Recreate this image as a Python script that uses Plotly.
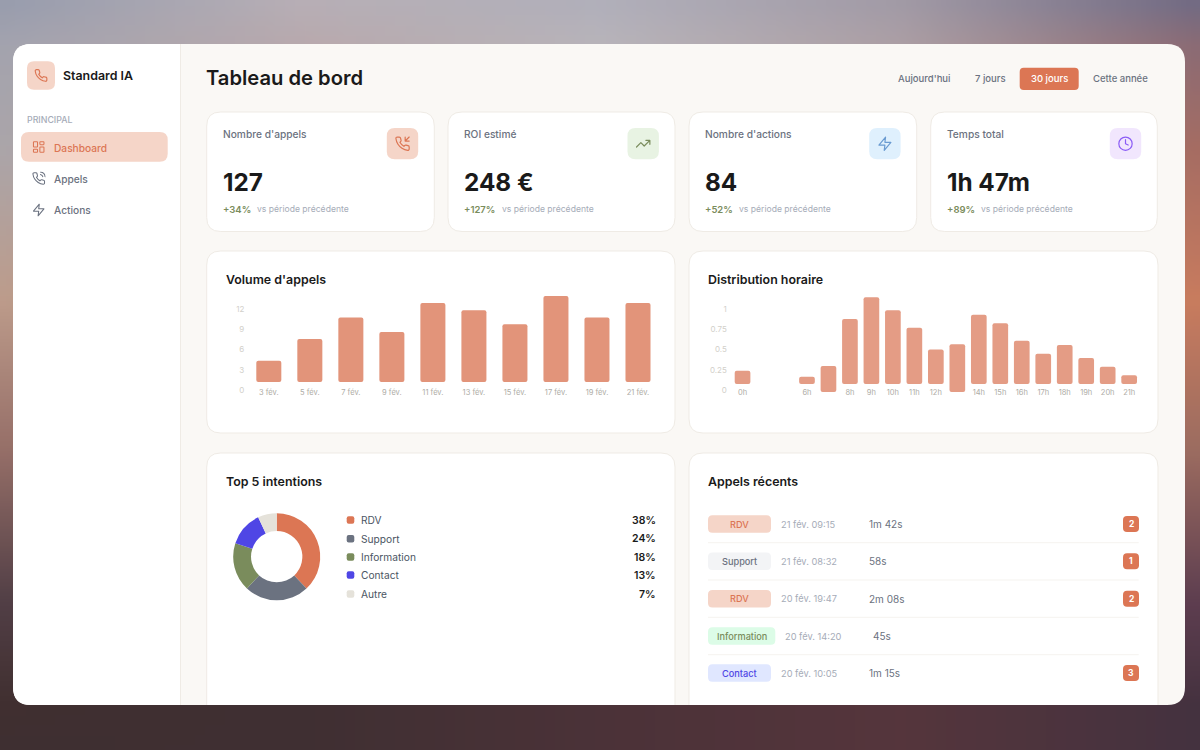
import base64
import struct
import zlib

import numpy as np
import plotly.graph_objects as go

W = 1200
H = 750

# Data
kpi_labels = ["Nombre d'appels", "ROI estimé", "Nombre d'actions", "Temps total"]
kpi_values = ["127", "248 €", "84", "1h 47m"]
kpi_changes = ["+34%", "+127%", "+52%", "+89%"]
kpi_note = "vs période précédente"

filter_labels = ["Aujourd'hui", "7 jours", "30 jours", "Cette année"]
nav_labels = ["Dashboard", "Appels", "Actions"]

volume_days = ["3 fév.", "5 fév.", "7 fév.", "9 fév.", "11 fév.", "13 fév.", "15 fév.", "17 fév.", "19 fév.", "21 fév."]
volume_tops = [4.35, 7.54, 10.7, 8.57, 12.84, 11.76, 9.7, 13.87, 10.7, 12.84]
volume_bottom = 1.22
volume_ticks = [0, 3, 6, 9, 12]

# slots 1 and 2 of the hour axis stay empty in the chart
hour_slots = [0, 3, 4, 5, 6, 7, 8, 9, 10, 11, 12, 13, 14, 15, 16, 17, 18]
hour_tops = [0.238, 0.165, 0.296, 0.877, 1.144, 0.984, 0.77, 0.50, 0.564, 0.93, 0.823, 0.609, 0.448, 0.556, 0.395, 0.288, 0.181]
hour_bottoms = [0.075, 0.075, -0.025, 0.075, 0.075, 0.075, 0.075, 0.075, -0.025, 0.075, 0.075, 0.075, 0.075, 0.075, 0.075, 0.075, 0.075]
hour_tick_slots = [0, 3, 5, 6, 7, 8, 9, 11, 12, 13, 14, 15, 16, 17, 18]
hour_tick_labels = ["0h", "6h", "8h", "9h", "10h", "11h", "12h", "14h", "15h", "16h", "17h", "18h", "19h", "20h", "21h"]
hour_ticks = [0, 0.25, 0.5, 0.75, 1]

intent_labels = ["RDV", "Support", "Information", "Contact", "Autre"]
intent_values = [38, 24, 18, 13, 7]
intent_colors = ["#dc7654", "#6b7280", "#7a8c5c", "#4f46e5", "#e5e2da"]

call_tags = ["RDV", "Support", "RDV", "Information", "Contact"]
call_dates = ["21 fév. 09:15", "21 fév. 08:32", "20 fév. 19:47", "20 fév. 14:20", "20 fév. 10:05"]
call_durations = ["1m 42s", "58s", "2m 08s", "45s", "1m 15s"]
call_actions = ["2", "1", "2", "", "3"]

ACCENT = "#dc7654"
INK = "#1a1a1a"
GREY = "#6b7280"
LIGHT = "#a6acb8"
BODY = "Inter"
HEAD = "Inter"

tag_styles = {
    "RDV": ("#f5d5c8", "#dc7654"),
    "Support": ("#f3f4f6", "#6b7280"),
    "Information": ("#dcfce7", "#7a8c5c"),
    "Contact": ("#e0e7ff", "#4f46e5"),
}


def px(x):
    return x / W


def py(y):
    return 1 - y / H


def rrect(x0, y0, x1, y1, r):
    return (f"M{px(x0 + r)},{py(y0)} L{px(x1 - r)},{py(y0)} Q{px(x1)},{py(y0)} {px(x1)},{py(y0 + r)} "
            f"L{px(x1)},{py(y1 - r)} Q{px(x1)},{py(y1)} {px(x1 - r)},{py(y1)} L{px(x0 + r)},{py(y1)} "
            f"Q{px(x0)},{py(y1)} {px(x0)},{py(y1 - r)} L{px(x0)},{py(y0 + r)} Q{px(x0)},{py(y0)} {px(x0 + r)},{py(y0)} Z")


# top corners only and no closing edge, the window cuts these cards off
def open_card(x0, y0, x1, y1, r):
    return (f"M{px(x0)},{py(y1)} L{px(x0)},{py(y0 + r)} Q{px(x0)},{py(y0)} {px(x0 + r)},{py(y0)} "
            f"L{px(x1 - r)},{py(y0)} Q{px(x1)},{py(y0)} {px(x1)},{py(y0 + r)} L{px(x1)},{py(y1)}")


shapes = []
annotations = []
images = []


def box(x0, y0, x1, y1, r, fill, line=None):
    shapes.append(dict(type="path", xref="paper", yref="paper", path=rrect(x0, y0, x1, y1, r),
                       fillcolor=fill, line=dict(color=line or fill, width=1 if line else 0), layer="below"))


def text(x, y, s, size, color, family=BODY, weight=400, anchor="left"):
    # annotations sit about 1px inside their anchor
    if anchor == "left":
        x -= 1.2
    elif anchor == "right":
        x += 1.5
    annotations.append(dict(x=px(x), y=py(y), xref="paper", yref="paper", text=s, showarrow=False,
                            xanchor=anchor, yanchor="middle", borderpad=0,
                            font=dict(family=family, size=size, color=color, weight=weight)))


PHONE = '<path d="M22 16.92v3a2 2 0 0 1-2.18 2 19.79 19.79 0 0 1-8.63-3.07 19.5 19.5 0 0 1-6-6 19.79 19.79 0 0 1-3.07-8.67A2 2 0 0 1 4.11 2h3a2 2 0 0 1 2 1.72 12.84 12.84 0 0 0 .7 2.81 2 2 0 0 1-.45 2.11L8.09 9.91a16 16 0 0 0 6 6l1.27-1.27a2 2 0 0 1 2.11-.45 12.84 12.84 0 0 0 2.81.7A2 2 0 0 1 22 16.92z"/>'
ICONS = {
    "phone": PHONE,
    "call": PHONE + '<path d="M15.05 5A5 5 0 0 1 19 8.95M15.05 1A9 9 0 0 1 23 8.94"/>',
    "incoming": PHONE + '<path d="M16 2v6h6M22 2l-6 6"/>',
    "trend": '<path d="M22 7l-8.5 8.5-5-5L2 17M16 7h6v6"/>',
    "zap": '<path d="M13 2 3 14h9l-1 8 10-12h-9l1-8z"/>',
    "clock": '<circle cx="12" cy="12" r="10"/><path d="M12 6v6l4 2"/>',
    "grid": '<rect x="3" y="3" width="7" height="9" rx="1"/><rect x="14" y="3" width="7" height="5" rx="1"/><rect x="14" y="12" width="7" height="9" rx="1"/><rect x="3" y="16" width="7" height="5" rx="1"/>',
}


def icon(name, cx, cy, size, color, sw=2):
    svg = (f'<svg xmlns="http://www.w3.org/2000/svg" viewBox="0 0 24 24" fill="none" stroke="{color}" '
           f'stroke-width="{sw}" stroke-linecap="round" stroke-linejoin="round">{ICONS[name]}</svg>')
    src = "data:image/svg+xml;base64," + base64.b64encode(svg.encode()).decode()
    images.append(dict(source=src, xref="paper", yref="paper", x=px(cx - size / 2), y=py(cy - size / 2),
                       sizex=size / W, sizey=size / H, xanchor="left", yanchor="top", sizing="stretch", layer="above"))


# backdrop gradient behind the window
def backdrop():
    xs = [0, 300, 600, 900, 1200]
    ys = [0, 44, 150, 300, 450, 600, 705, 750]
    rows = [
        ["979cad", "b7afb6", "b0afba", "a19aa6", "6f6a84"],
        ["a3a3ae", "b8a9ad", "b8b4ba", "ac9fa5", "8a6a74"],
        ["aba5a9", "b0a0a0", "a89a9a", "a08080", "a66c62"],
        ["bd9c8b", "b89080", "b08878", "b88070", "c97c5e"],
        ["966f68", "907068", "907068", "947068", "9c6c60"],
        ["523f46", "554045", "5a4048", "5c3e4a", "5e3e50"],
        ["402f30", "3f2f32", "4b3238", "55353c", "44323f"],
        ["3e2f31", "3f2f32", "4b3238", "55353c", "44323f"],
    ]
    grid = np.array([[[int(c[i:i + 2], 16) for i in (0, 2, 4)] for c in r] for r in rows], dtype=float)
    w, h = 120, 75
    gx = (np.arange(w) + 0.5) * W / w
    gy = (np.arange(h) + 0.5) * H / h
    tmp = np.stack([np.interp(gx, xs, grid[j, :, k]) for j in range(len(ys)) for k in range(3)]).reshape(len(ys), 3, w)
    img = np.stack([np.stack([np.interp(gy, ys, tmp[:, k, i]) for i in range(w)], axis=1) for k in range(3)], axis=2)
    raw = b"".join(b"\x00" + img[j].round().astype(np.uint8).tobytes() for j in range(h))

    def chunk(t, d):
        return struct.pack(">I", len(d)) + t + d + struct.pack(">I", zlib.crc32(t + d))

    png = b"\x89PNG\r\n\x1a\n" + chunk(b"IHDR", struct.pack(">IIBBBBB", w, h, 8, 2, 0, 0, 0)) + chunk(b"IDAT", zlib.compress(raw)) + chunk(b"IEND", b"")
    return "data:image/png;base64," + base64.b64encode(png).decode()


images.append(dict(source=backdrop(), xref="paper", yref="paper", x=0, y=1, sizex=1, sizey=1,
                   xanchor="left", yanchor="top", sizing="stretch", layer="below"))

# window and sidebar
box(13, 44, 1185, 705, 18, "#faf8f5")
shapes.append(dict(type="path", xref="paper", yref="paper", layer="below", fillcolor="#ffffff", line=dict(width=0),
                   path=f"M{px(31)},{py(44)} L{px(180)},{py(44)} L{px(180)},{py(705)} L{px(31)},{py(705)} "
                        f"Q{px(13)},{py(705)} {px(13)},{py(687)} L{px(13)},{py(62)} Q{px(13)},{py(44)} {px(31)},{py(44)} Z"))
shapes.append(dict(type="line", xref="paper", yref="paper", layer="below", x0=px(180.5), x1=px(180.5), y0=py(44), y1=py(705),
                   line=dict(color="#efebe5", width=1)))

box(27, 61.3, 55, 89.7, 7, "#f5d5c8")
icon("phone", 41, 75.5, 14, ACCENT)
text(63.3, 75.5, "Standard IA", 12.4, INK, HEAD, 600)
text(27, 119.3, "PRINCIPAL", 8.8, LIGHT, BODY, 500)
box(21, 132, 167.7, 161.7, 8, "#f5d5c8")
nav_icons = ["grid", "call", "zap"]
nav_y = [147.5, 179, 210.5]
for i, label in enumerate(nav_labels):
    col = ACCENT if i == 0 else GREY
    icon(nav_icons[i], 38.7, nav_y[i] - 0.5, 14, col, 1.8)
    text(54, nav_y[i], label, 10.2, col, BODY, 450)

# header
text(206, 78, "Tableau de bord", 20.2, INK, HEAD, 600)
box(1019.7, 67.7, 1078.7, 90, 4, ACCENT)
filter_x = [924, 990.5, 1049.2, 1120]
for i, label in enumerate(filter_labels):
    text(filter_x[i], 79, label, 9.5, "#ffffff" if i == 2 else GREY, BODY, 450, "center")

# KPI cards
kpi_left = [206.7, 448, 689, 930.7]
kpi_right = [434.3, 675, 916.7, 1157.3]
kpi_note_x = [257, 501.7, 739.3, 981]
kpi_icons = ["incoming", "trend", "zap", "clock"]
kpi_tile = ["#f5d5c8", "#e8f3e3", "#dff0fd", "#f1e6fd"]
kpi_ink = ["#dc7654", "#7a8c5c", "#6a9bd1", "#8b5cf6"]
for i in range(4):
    x0 = kpi_left[i]
    box(x0, 112, kpi_right[i], 231.5, 14, "#ffffff", "#efebe5")
    text(x0 + 16, 134.3, kpi_labels[i], 10.2, GREY, BODY, 450)
    tx = kpi_right[i] - 47.5
    box(tx, 128, tx + 31.4, 159.3, 8, kpi_tile[i])
    icon(kpi_icons[i], tx + 15.7, 143.7, 16, kpi_ink[i], 1.8)
    text(x0 + 16, 182, kpi_values[i], 24.3, INK, HEAD, 700)
    text(x0 + 16, 209.3, kpi_changes[i], 9.5, "#7a8c5c", BODY, 600)
    text(kpi_note_x[i], 209.3, kpi_note, 8.6, LIGHT, BODY, 400)

# chart cards
box(206.7, 251, 675, 433, 14, "#ffffff", "#efebe5")
box(689, 251, 1158, 433, 14, "#ffffff", "#efebe5")
for x0, x1 in [(206.7, 675), (689, 1158)]:
    shapes.append(dict(type="path", xref="paper", yref="paper", layer="below", path=open_card(x0, 453, x1, 705, 14),
                       fillcolor="#ffffff", line=dict(color="#efebe5", width=1)))
text(225.7, 279.5, "Volume d'appels", 12.4, INK, HEAD, 600)
text(708, 279.5, "Distribution horaire", 12.4, INK, HEAD, 600)
text(225.7, 481, "Top 5 intentions", 12.4, INK, HEAD, 600)
text(708, 481, "Appels récents", 12.4, INK, HEAD, 600)

# intents legend
intent_y = [520, 538.7, 557, 575, 594]
for i, label in enumerate(intent_labels):
    box(346.7, intent_y[i] - 3.8, 354.3, intent_y[i] + 3.8, 2, intent_colors[i])
    text(360.7, intent_y[i], label, 10.2, "#4b5563", BODY, 400)
    text(655.7, intent_y[i], f"{intent_values[i]}%", 10.5, INK, BODY, 600, "right")

# recent calls
row_y = [524, 561.3, 598.7, 636, 673]
for y in [542.7, 580, 617.3, 654.7]:
    shapes.append(dict(type="line", xref="paper", yref="paper", layer="below", x0=px(708), x1=px(1138.7), y0=py(y), y1=py(y),
                       line=dict(color="#f5f3ef", width=1)))
for i, tag in enumerate(call_tags):
    y = row_y[i]
    fill, ink = tag_styles[tag]
    shift = 4.3 if tag == "Information" else 0
    box(708, y - 8.7, 771 + shift, y + 8.7, 4.5, fill)
    text(739.5 + shift / 2, y, tag, 9.2, ink, BODY, 450, "center")
    text(780.7 + shift, y, call_dates[i], 9.25, LIGHT, BODY, 400)
    text(868.7 + shift, y, call_durations[i], 10, GREY, BODY, 400)
    if call_actions[i]:
        box(1123, y - 8, 1139, y + 8, 4, ACCENT)
        text(1131, y, call_actions[i], 8.5, "#ffffff", BODY, 700, "center")

fig = go.Figure()

# volume chart
fig.add_trace(go.Bar(x=volume_days, y=[t - volume_bottom for t in volume_tops], base=volume_bottom,
                     width=0.61, marker=dict(color="#e2947a", cornerradius=2, line=dict(width=0)),
                     xaxis="x", yaxis="y", hoverinfo="skip"))

# hourly chart
fig.add_trace(go.Bar(x=hour_slots, y=[t - b for t, b in zip(hour_tops, hour_bottoms)], base=hour_bottoms,
                     width=0.73, marker=dict(color="#e49c85", cornerradius=2, line=dict(width=0)),
                     xaxis="x2", yaxis="y2", hoverinfo="skip"))

# intents donut
fig.add_trace(go.Pie(labels=intent_labels, values=intent_values, hole=0.59, sort=False, direction="clockwise", rotation=0,
                     marker=dict(colors=intent_colors, line=dict(width=0)), textinfo="none", hoverinfo="skip", showlegend=False,
                     domain=dict(x=[px(276.7 - 43.5), px(276.7 + 43.5)], y=[py(556.7 + 43.5), py(556.7 - 43.5)])))

Y_TOP = 290
Y_BOT = 396
LABEL_Y = 386.5
vol_scale = 6.8
hour_scale = 81

tickx = dict(family=BODY, size=7.5, color="#aeaca6")
ticky = dict(family=BODY, size=8, color="#d2d0ca")
hide = dict(showgrid=False, zeroline=False, showline=False, ticks="", fixedrange=True)

fig.update_layout(
    width=W, height=H, margin=dict(l=0, r=0, t=0, b=0, pad=0),
    paper_bgcolor="rgba(0,0,0,0)", plot_bgcolor="rgba(0,0,0,0)", showlegend=False,
    shapes=shapes, annotations=annotations, images=images,
    xaxis=dict(hide, domain=[px(248.3), px(658.5)], type="category", categoryorder="array", categoryarray=volume_days,
               range=[-0.5, 9.5], anchor="free", position=py(LABEL_Y), tickfont=tickx),
    yaxis=dict(hide, domain=[py(Y_BOT), py(Y_TOP)], range=[(390.3 - Y_BOT) / vol_scale, (390.3 - Y_TOP) / vol_scale],
               anchor="x", tickmode="array", tickvals=volume_ticks, ticktext=[str(v) for v in volume_ticks], tickfont=ticky,
               ticklabelstandoff=3),
    xaxis2=dict(hide, domain=[px(731.8), px(1139.9)], range=[-0.5, 18.5], anchor="free", position=py(LABEL_Y),
                tickmode="array", tickvals=hour_tick_slots, ticktext=hour_tick_labels, tickfont=tickx),
    yaxis2=dict(hide, domain=[py(Y_BOT), py(Y_TOP)], range=[(390 - Y_BOT) / hour_scale, (390 - Y_TOP) / hour_scale],
                anchor="x2", tickmode="array", tickvals=hour_ticks, ticktext=[str(v) for v in hour_ticks], tickfont=ticky,
                ticklabelstandoff=4),
)

fig.write_html("out.html", config=dict(displayModeBar=False),
               post_script="document.body.style.margin='0';document.documentElement.style.overflow='hidden';")
